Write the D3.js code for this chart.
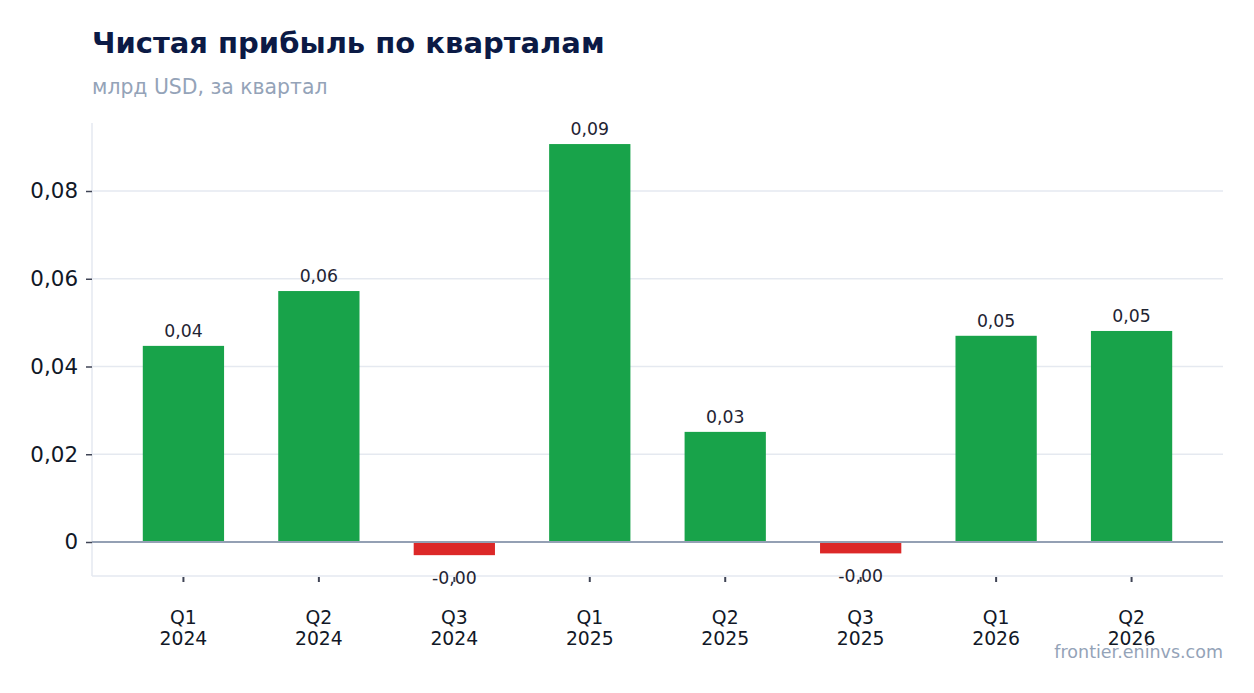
<!DOCTYPE html>
<html>
<head>
<meta charset="utf-8">
<script src="https://cdn.jsdelivr.net/npm/d3@7"></script>
<style>
  body { margin: 0; background: #fff; }
  svg { font-family: "DejaVu Sans", sans-serif; }
</style>
</head>
<body>
<svg width="1254" height="693"></svg>
<script>
// data
var quarters = ["Q1", "Q2", "Q3", "Q1", "Q2", "Q3", "Q1", "Q2"];
var years = ["2024", "2024", "2024", "2025", "2025", "2025", "2026", "2026"];
var profit = [0.0447, 0.0572, -0.0030, 0.0907, 0.0251, -0.0026, 0.0470, 0.0481];
var yTicks = [0, 0.02, 0.04, 0.06, 0.08];

var width = 1254;
var height = 693;
var margin = { top: 123, bottom: 117, left: 92, right: 31 };

var svg = d3.select("svg");

var fmt = function (v) {
    if (v === 0) return "0";
    return v.toFixed(2).replace(".", ",");
};

var keys = quarters.map(function (q, i) { return q + " " + years[i]; });

var x = d3.scaleBand()
    .domain(keys)
    .range([margin.left, width - margin.right])
    .paddingInner(0.4)
    .paddingOuter(0.375);

var y = d3.scaleLinear()
    .domain([-0.00775, 0.0955])
    .range([height - margin.bottom, margin.top]);

// grid
svg.append("g")
    .selectAll("line")
    .data(yTicks.filter(function (d) { return d !== 0; }))
    .enter().append("line")
    .attr("x1", margin.left)
    .attr("x2", width - margin.right)
    .attr("y1", function (d) { return y(d); })
    .attr("y2", function (d) { return y(d); })
    .attr("stroke", "#e5e9f0")
    .attr("stroke-width", 1.5);

// frame lines (left and bottom)
svg.append("line")
    .attr("x1", margin.left).attr("x2", margin.left)
    .attr("y1", margin.top).attr("y2", height - margin.bottom)
    .attr("stroke", "#e5e9f0").attr("stroke-width", 1.5);
svg.append("line")
    .attr("x1", margin.left).attr("x2", width - margin.right)
    .attr("y1", height - margin.bottom).attr("y2", height - margin.bottom)
    .attr("stroke", "#e5e9f0").attr("stroke-width", 1.5);

// y axis
var yAxis = svg.append("g")
    .attr("transform", "translate(" + [margin.left, 0] + ")")
    .call(d3.axisLeft(y).tickValues(yTicks).tickFormat(fmt).tickSize(6).tickPadding(8));
yAxis.select(".domain").remove();
yAxis.selectAll(".tick line").attr("stroke", "#3f4455").attr("stroke-width", 1.5);
yAxis.selectAll(".tick text")
    .attr("fill", "#111827")
    .style("font-size", "21.4px")
    .style("font-family", "DejaVu Sans, sans-serif");

// bars
svg.selectAll(".bar")
    .data(profit)
    .enter().append("rect")
    .attr("class", "bar")
    .attr("x", function (d, i) { return x(keys[i]); })
    .attr("width", x.bandwidth())
    .attr("y", function (d) { return y(Math.max(0, d)); })
    .attr("height", function (d) { return Math.abs(y(d) - y(0)); })
    .attr("fill", function (d) { return d >= 0 ? "#18a34a" : "#dc2828"; });

// zero line
svg.append("line")
    .attr("x1", margin.left).attr("x2", width - margin.right)
    .attr("y1", y(0)).attr("y2", y(0))
    .attr("stroke", "#94a0b4").attr("stroke-width", 2);

// x axis
var xAxis = svg.append("g")
    .attr("transform", "translate(" + [0, height - margin.bottom] + ")")
    .call(d3.axisBottom(x).tickSize(6).tickFormat(""));
xAxis.select(".domain").remove();
xAxis.selectAll(".tick line").attr("stroke", "#3f4455").attr("stroke-width", 2)
    .attr("y1", 1).attr("y2", 6);

var xl = svg.append("g").selectAll("text")
    .data(keys)
    .enter().append("text")
    .attr("x", function (d) { return x(d) + x.bandwidth() / 2; })
    .attr("text-anchor", "middle")
    .attr("fill", "#111827")
    .style("font-size", "18.8px");
xl.append("tspan").attr("y", 624).attr("x", function (d) { return x(d) + x.bandwidth() / 2; })
    .text(function (d, i) { return quarters[i]; });
xl.append("tspan").attr("y", 645).attr("x", function (d) { return x(d) + x.bandwidth() / 2; })
    .text(function (d, i) { return years[i]; });

// value labels
svg.selectAll(".val")
    .data(profit)
    .enter().append("text")
    .attr("class", "val")
    .attr("x", function (d, i) { return x(keys[i]) + x.bandwidth() / 2; })
    .attr("y", function (d) { return d >= 0 ? y(d) - 9 : y(d) + 29; })
    .attr("text-anchor", "middle")
    .attr("fill", "#1f2433")
    .style("font-size", "17.3px")
    .text(function (d) { return d.toFixed(2).replace(".", ","); });

// titles
svg.append("text")
    .attr("x", 92).attr("y", 53)
    .attr("fill", "#0b1a45")
    .style("font-size", "29px")
    .style("font-weight", "bold")
    .text("Чистая прибыль по кварталам");

svg.append("text")
    .attr("x", 92).attr("y", 94)
    .attr("fill", "#94a3b8")
    .style("font-size", "20.4px")
    .text("млрд USD, за квартал");

svg.append("text")
    .attr("x", 1223).attr("y", 658)
    .attr("text-anchor", "end")
    .attr("fill", "#94a3b8")
    .style("font-size", "17.5px")
    .text("frontier.eninvs.com");
</script>
</body>
</html>
